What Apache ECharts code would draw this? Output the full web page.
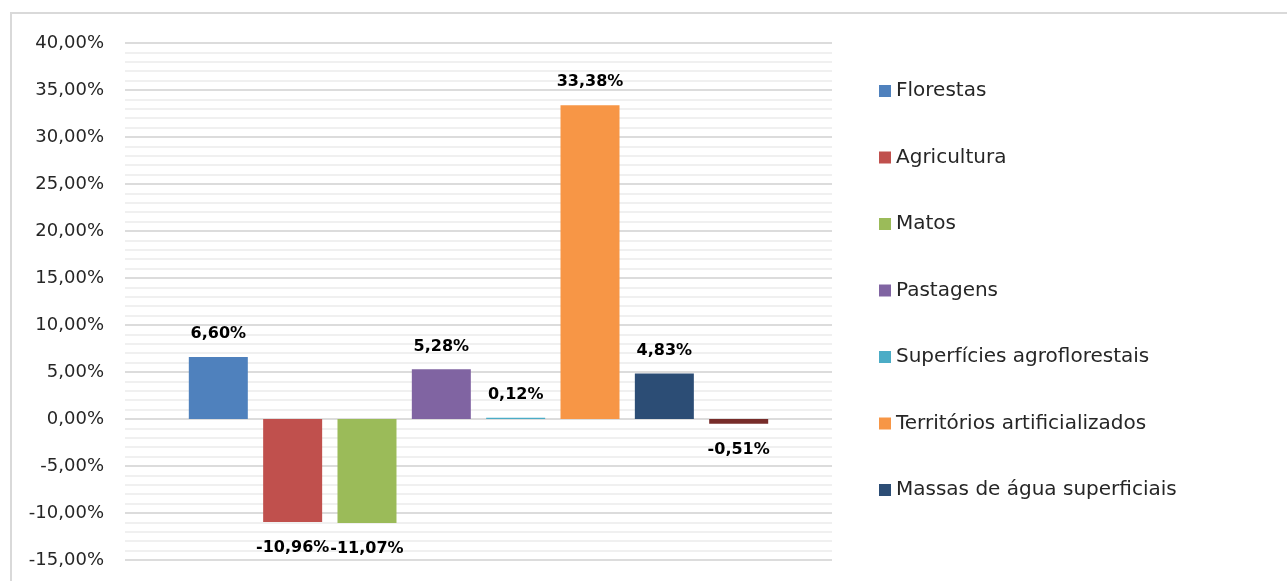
<!DOCTYPE html>
<html>
<head>
<meta charset="utf-8">
<script src="https://cdn.jsdelivr.net/npm/echarts@6/dist/echarts.min.js"></script>
<style>
  html, body { margin: 0; padding: 0; background: #fff; }
  #chart { width: 1287px; height: 581px; }
</style>
</head>
<body>
<div id="chart"></div>
<script>
// ---------- data ----------
const seriesNames = [
  'Florestas',
  'Agricultura',
  'Matos',
  'Pastagens',
  'Superfícies agroflorestais',
  'Territórios artificializados',
  'Massas de água superficiais',
  'Zonas húmidas'
];
const seriesValues = [6.60, -10.96, -11.07, 5.28, 0.12, 33.38, 4.83, -0.51];
const seriesColors = ['#4f81bd', '#c0504d', '#9bbb59', '#8064a2', '#4bacc6', '#f79646', '#2c4d75', '#772c2a'];
// the last series is cut off from the legend in the original
const legendNames = seriesNames.slice(0, 7);

const FONT = 'DejaVu Sans';
const fmtPct = v => v.toFixed(2).replace('.', ',') + '%';

const chart = echarts.init(document.getElementById('chart'), null, { renderer: 'canvas' });

const series = seriesNames.map((name, i) => ({
  name,
  type: 'bar',
  barWidth: 59,
  barGap: '26%',
  itemStyle: { color: seriesColors[i] },
  label: {
    show: true,
    position: seriesValues[i] < 0 ? 'bottom' : 'top',
    distance: seriesValues[i] < 0 ? 18 : 15,
    fontFamily: FONT,
    fontSize: 16,
    fontWeight: 'bold',
    color: '#000',
    formatter: p => fmtPct(p.value)
  },
  data: [seriesValues[i]]
}));

chart.setOption({
  animation: false,
  backgroundColor: '#fff',
  grid: { left: 125, right: 455, top: 43, bottom: 21 },
  legend: {
    data: legendNames,
    orient: 'vertical',
    left: 874,
    top: 76,
    icon: 'rect',
    itemWidth: 12,
    itemHeight: 12,
    itemGap: 46.5,
    textStyle: { fontFamily: FONT, fontSize: 20, color: '#262626', lineHeight: 20 }
  },
  xAxis: {
    type: 'category',
    data: [''],
    axisLine: { show: false },
    axisTick: { show: false },
    axisLabel: { show: false }
  },
  yAxis: {
    type: 'value',
    min: -15,
    max: 40,
    interval: 5,
    axisLine: { show: false },
    axisTick: { show: false },
    axisLabel: {
      margin: 21,
      fontFamily: FONT,
      fontSize: 18,
      color: '#262626',
      formatter: v => fmtPct(v)
    },
    splitLine: { lineStyle: { color: '#d0d0d0', width: 1.5 } },
    minorTick: { show: false, splitNumber: 5 },
    minorSplitLine: { show: true, lineStyle: { color: '#ececec', width: 1.5 } }
  },
  graphic: [{
    type: 'rect',
    silent: true,
    shape: { x: 11, y: 13, width: 1400, height: 700 },
    style: { fill: 'none', stroke: '#d9d9d9', lineWidth: 2 }
  }],
  series
});
</script>
</body>
</html>
